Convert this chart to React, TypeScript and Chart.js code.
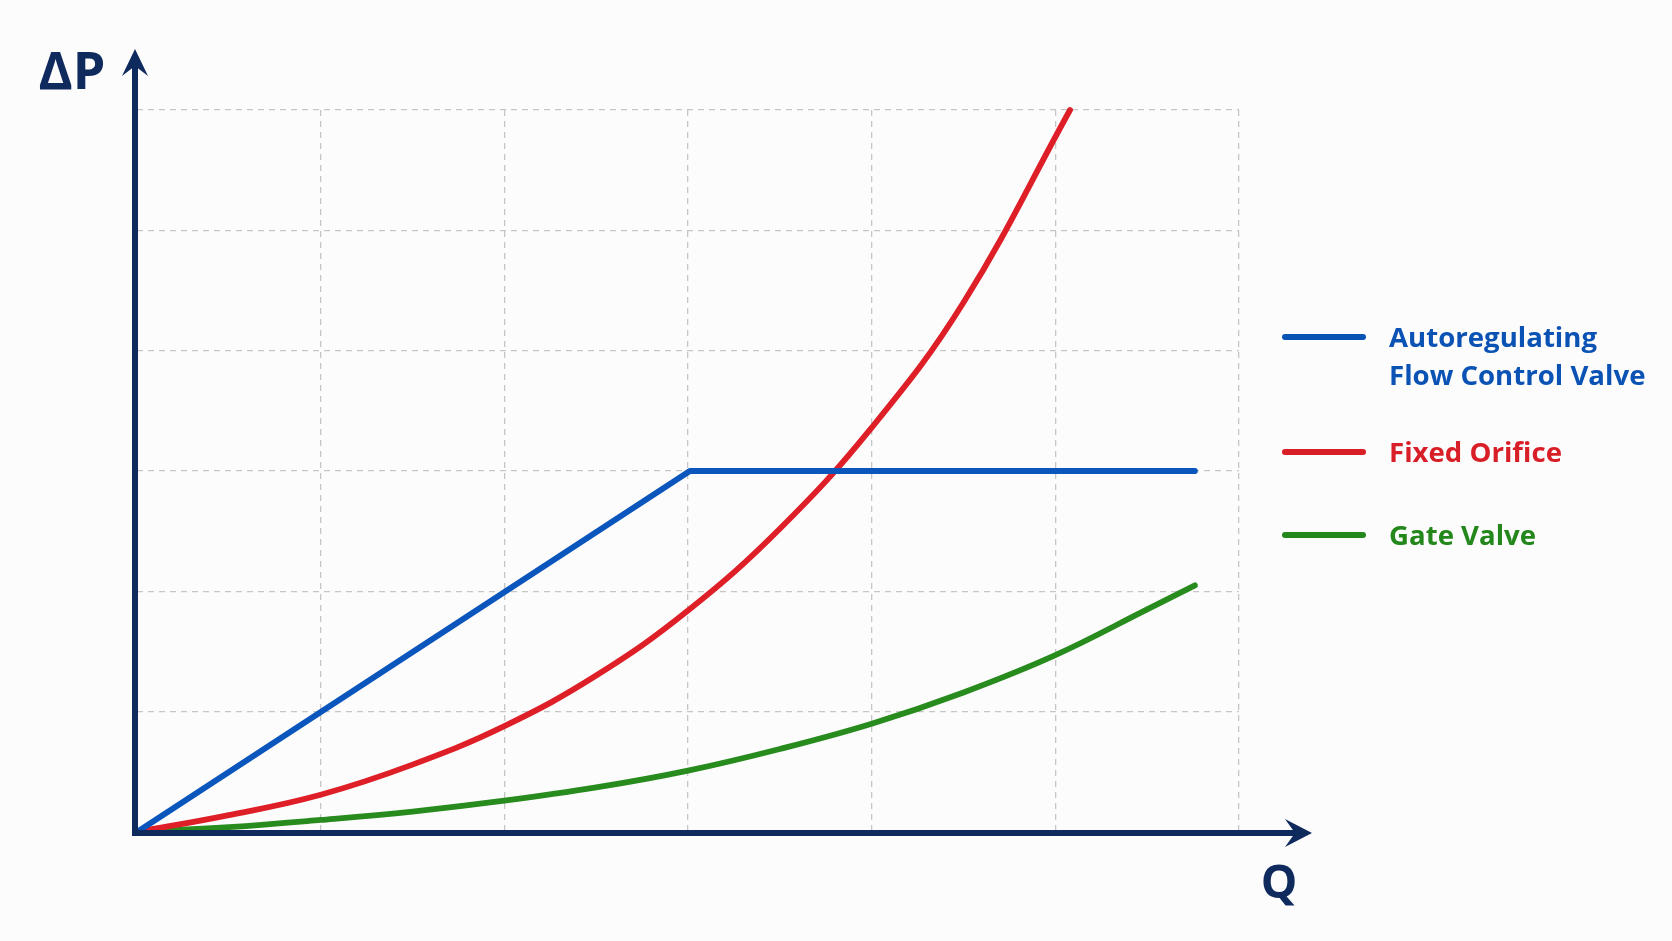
import { useEffect, useRef } from "react";
import { Chart, registerables } from "chart.js";
import type { Plugin } from "chart.js";

Chart.register(...registerables);

// flow (Q) and pressure drop (ΔP) readings, in grid units
const autoQ = [0, 3.01, 5.76];
const autoDP = [0, 3, 3];

const orificeQ = [0, 0.5, 1, 1.5, 2, 2.5, 3, 3.5, 4, 4.5, 5.08];
const orificeDP = [0, 0.14, 0.31, 0.56, 0.88, 1.3, 1.84, 2.52, 3.36, 4.4, 6];

const gateQ = [0, 0.5, 1, 1.5, 2, 2.5, 3, 3.5, 4, 4.5, 5, 5.5, 5.76];
const gateDP = [0, 0.04, 0.1, 0.17, 0.26, 0.37, 0.51, 0.69, 0.9, 1.16, 1.47, 1.85, 2.05];

const seriesLabels = [
  ["Autoregulating", "Flow Control Valve"],
  ["Fixed Orifice"],
  ["Gate Valve"],
];
const seriesColors = ["#0b56bd", "#de1f27", "#278c1d"];
const legendColors = ["#0a52b3", "#d81e26", "#23871b"];

const xTitle = "Q";
const yTitle = "ΔP";
const axisMax = 6;

const AXIS_COLOR = "#0f2a5d";
const FONT = '"Open Sans", "DejaVu Sans", sans-serif';

const toPoints = (xs: number[], ys: number[]) =>
  xs.map((x, i) => ({ x, y: ys[i] }));

// filled arrow head with a notched back
const arrowHead = (
  ctx: CanvasRenderingContext2D,
  x: number,
  y: number,
  dir: "up" | "right"
) => {
  ctx.beginPath();
  if (dir === "up") {
    ctx.moveTo(x, y);
    ctx.lineTo(x + 13, y + 27);
    ctx.lineTo(x, y + 17);
    ctx.lineTo(x - 13, y + 27);
  } else {
    ctx.moveTo(x, y);
    ctx.lineTo(x - 27, y - 14);
    ctx.lineTo(x - 17, y);
    ctx.lineTo(x - 27, y + 14);
  }
  ctx.closePath();
  ctx.fill();
};

const decorPlugin: Plugin<"line"> = {
  id: "decor",
  afterDraw(chart) {
    const { ctx, chartArea } = chart;
    const { left, right, top, bottom } = chartArea;
    ctx.save();

    // axes
    const ax = left - 2;
    const ay = bottom + 1;
    ctx.strokeStyle = AXIS_COLOR;
    ctx.fillStyle = AXIS_COLOR;
    ctx.lineWidth = 6;
    ctx.lineCap = "butt";
    const yTip = top - 61;
    const xTip = right + 73;
    ctx.beginPath();
    ctx.moveTo(ax, ay + 3);
    ctx.lineTo(ax, yTip + 16);
    ctx.stroke();
    ctx.beginPath();
    ctx.moveTo(ax - 3, ay);
    ctx.lineTo(xTip - 16, ay);
    ctx.stroke();
    arrowHead(ctx, ax, yTip, "up");
    arrowHead(ctx, xTip, ay, "right");

    // axis titles
    ctx.textAlign = "center";
    ctx.textBaseline = "alphabetic";
    ctx.font = `bold 52px ${FONT}`;
    ctx.fillText(yTitle, ax - 63, top - 21);
    ctx.font = `bold 46px ${FONT}`;
    ctx.fillText(xTitle, right + 40, ay + 65);

    // legend
    const rowOffsets = [227, 342, 425];
    ctx.textAlign = "left";
    ctx.font = `bold 27.6px ${FONT}`;
    ctx.lineCap = "round";
    ctx.lineWidth = 6;
    seriesLabels.forEach((lines, i) => {
      const y = top + rowOffsets[i];
      ctx.strokeStyle = legendColors[i];
      ctx.fillStyle = legendColors[i];
      ctx.beginPath();
      ctx.moveTo(right + 46, y);
      ctx.lineTo(right + 124, y);
      ctx.stroke();
      lines.forEach((t, j) => {
        ctx.fillText(t, right + 150, y + 10 + j * 38);
      });
    });

    ctx.restore();
  },
};

const LineChart = () => {
  const chartRef = useRef<HTMLCanvasElement>(null);
  const chartInstanceRef = useRef<Chart<"line"> | null>(null);

  useEffect(() => {
    document.body.style.margin = "0";
    document.body.style.background = "#fdfcfd";
    if (!chartRef.current) return;
    const ctx = chartRef.current.getContext("2d");
    if (!ctx) return;

    if (chartInstanceRef.current) {
      chartInstanceRef.current.destroy();
    }

    const series = [
      toPoints(autoQ, autoDP),
      toPoints(orificeQ, orificeDP),
      toPoints(gateQ, gateDP),
    ];

    chartInstanceRef.current = new Chart(ctx, {
      type: "line",
      data: {
        datasets: series.map((data, i) => ({
          label: seriesLabels[i].join(" "),
          data,
          borderColor: seriesColors[i],
          backgroundColor: seriesColors[i],
          borderWidth: 5.8,
          borderCapStyle: "round",
          borderJoinStyle: "round",
          pointRadius: 0,
          // straight segments for the valve, smooth splines for the curves
          tension: i === 0 ? 0 : 0.4,
          fill: false,
          clip: false,
        })),
      },
      options: {
        animation: false,
        responsive: true,
        maintainAspectRatio: false,
        layout: {
          padding: { left: 137, right: 433, top: 110, bottom: 109 },
        },
        plugins: {
          legend: { display: false },
          tooltip: { enabled: false },
        },
        scales: {
          x: {
            type: "linear",
            min: 0,
            max: axisMax,
            ticks: { display: false, stepSize: 1 },
            grid: { color: "#c6c6c6", lineWidth: 1.3, drawTicks: false },
            border: { display: false, dash: [6, 5] },
          },
          y: {
            type: "linear",
            min: 0,
            max: axisMax,
            ticks: { display: false, stepSize: 1 },
            grid: { color: "#c6c6c6", lineWidth: 1.3, drawTicks: false },
            border: { display: false, dash: [6, 5] },
          },
        },
      },
      plugins: [decorPlugin],
    });

    return () => {
      if (chartInstanceRef.current) {
        chartInstanceRef.current.destroy();
        chartInstanceRef.current = null;
      }
    };
  }, []);

  return (
    <div style={{ width: 1672, height: 941, position: "relative" }}>
      <canvas ref={chartRef}></canvas>
    </div>
  );
};

export default function App() {
  return <LineChart />;
}
